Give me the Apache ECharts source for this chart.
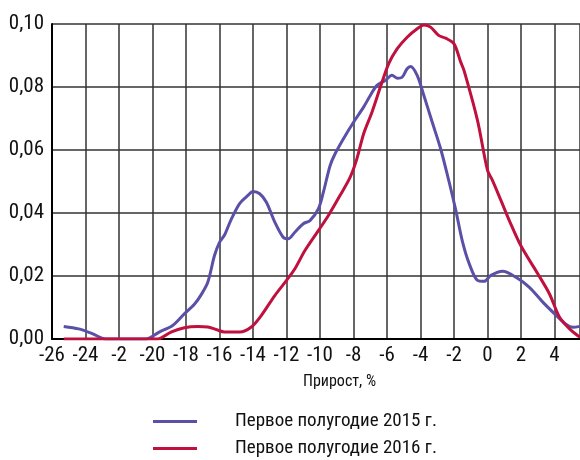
<!DOCTYPE html>
<html>
<head>
<meta charset="utf-8">
<script src="https://cdn.jsdelivr.net/npm/echarts@6/dist/echarts.min.js"></script>
<style>
html,body{margin:0;padding:0;background:#fff;}
#main{width:580px;height:460px;}
</style>
</head>
<body>
<div id="main"></div>
<script>
// шкала X: подписи как в оригинале (вместо -22 стоит "-2")
var xTicks = [-26,-24,-22,-20,-18,-16,-14,-12,-10,-8,-6,-4,-2,0,2,4];
var xTickLabels = ['-26','-24','-2','-20','-18','-16','-14','-12','-10','-8','-6','-4','-2','0','2','4'];
var yTickLabels = ['0,00','0,02','0,04','0,06','0,08','0,10'];

var names = ['Первое полугодие 2015 г.','Первое полугодие 2016 г.'];

var x2015 = [-25.3,-24.4,-23.6,-22.8,-21.5,-20.4,-19.6,-18.8,-18.1,-17.5,-17.1,-16.7,-16.3,-16.0,-15.7,-15.3,-14.8,-14.3,-14.0,-13.6,
  -13.2,-12.7,-12.2,-11.9,-11.5,-11.0,-10.6,-10.1,-9.8,-9.4,-9.1,-8.6,-8.0,-7.4,-7.0,-6.6,-6.1,-5.7,-5.4,-5.1,
  -4.8,-4.6,-4.2,-3.8,-3.3,-2.8,-2.3,-1.9,-1.5,-1.1,-0.6,-0.2,0.2,0.9,1.7,2.5,3.3,4.1,4.7,5.1,5.5];
var y2015 = [0.0040,0.0032,0.0017,0.0,0.0,0.0,0.0022,0.0043,0.0080,0.0110,0.0140,0.0180,0.0265,0.0307,0.0330,0.0380,0.0430,0.0456,0.0468,0.0461,
  0.0434,0.0371,0.0323,0.0318,0.0339,0.0366,0.0376,0.0413,0.0466,0.0550,0.0588,0.0636,0.0688,0.0736,0.0773,0.0805,0.0821,0.0837,0.0828,0.0831,
  0.0858,0.0865,0.0837,0.0773,0.0688,0.0604,0.0500,0.0410,0.0310,0.0240,0.0186,0.0183,0.0202,0.0215,0.0196,0.0164,0.0117,0.0075,0.0046,0.0037,0.0040];

var x2016 = [-25.3,-19.7,-18.9,-18.1,-17.3,-16.7,-16.2,-15.7,-14.8,-14.1,-13.5,-12.7,-12.0,-11.5,-10.9,-10.1,-9.5,-8.8,-8.2,-7.8,
  -7.4,-6.9,-6.4,-5.9,-5.4,-4.8,-4.2,-3.8,-3.4,-2.9,-2.5,-2.0,-1.6,-1.4,-0.6,0.0,0.3,0.8,1.3,2.0,3.0,3.7,4.3,4.9,5.5];
var y2016 = [0.0,0.0,0.0022,0.0036,0.0040,0.0038,0.0030,0.0022,0.0022,0.0038,0.0075,0.0138,0.0186,0.0223,0.0281,0.0344,0.0392,0.0456,0.0514,0.0572,
  0.0651,0.0720,0.0799,0.0874,0.0921,0.0958,0.0985,0.0997,0.0990,0.0963,0.0955,0.0937,0.0879,0.0852,0.0694,0.0535,0.0503,0.0440,0.0376,0.0295,
  0.0207,0.0143,0.0069,0.0032,0.0006];

function pairs(xs, ys){
  return xs.map(function(v,i){ return [v, ys[i]]; });
}

var font = '"Roboto Condensed","Liberation Sans Narrow",sans-serif';

var myChart = echarts.init(document.getElementById('main'));
var option = {
  animation:false,
  color:['#5b50a8','#c0103e'],
  grid:{ left:52, right:0, top:24, bottom:121 },
  xAxis:{
    type:'value',
    min:-26,
    max:5.52,
    interval:2,
    axisLine:{ onZero:false, lineStyle:{ color:'#000', width:2 } },
    axisTick:{ show:false },
    axisLabel:{
      margin:6,
      fontFamily:font, fontSize:21, color:'#111',
      showMaxLabel:false,
      formatter:function(v){
        var i = xTicks.indexOf(Math.round(v));
        return i >= 0 ? xTickLabels[i] : '';
      }
    },
    splitLine:{ show:true, lineStyle:{ color:'#333', width:1.5 } }
  },
  yAxis:{
    type:'value',
    min:0,
    max:0.1,
    interval:0.02,
    axisLine:{ show:true, onZero:false, lineStyle:{ color:'#000', width:2 } },
    axisTick:{ show:false },
    axisLabel:{
      margin:8,
      fontFamily:font, fontSize:21, color:'#111',
      formatter:function(v){ return yTickLabels[Math.round(v/0.02)]; }
    },
    splitLine:{ show:true, lineStyle:{ color:'#333', width:1.5 } }
  },
  legend:{
    orient:'vertical',
    left:153,
    top:412,
    height:120,
    padding:0,
    icon:'rect',
    itemWidth:44,
    itemHeight:3,
    itemGap:8,
    textStyle:{ fontFamily:font, fontSize:19, color:'#111', padding:[0,0,0,33] },
    data:names
  },
  graphic:[{
    type:'text',
    left:303,
    top:374,
    style:{ text:'Прирост, %', font:'16px ' + font, fill:'#111' }
  }],
  series:[
    {
      name:names[0],
      type:'line',
      smooth:0.3,
      showSymbol:false,
      lineStyle:{ width:3 },
      data:pairs(x2015, y2015)
    },
    {
      name:names[1],
      type:'line',
      smooth:0.3,
      showSymbol:false,
      lineStyle:{ width:3 },
      data:pairs(x2016, y2016)
    }
  ]
};
myChart.setOption(option);
</script>
</body>
</html>
